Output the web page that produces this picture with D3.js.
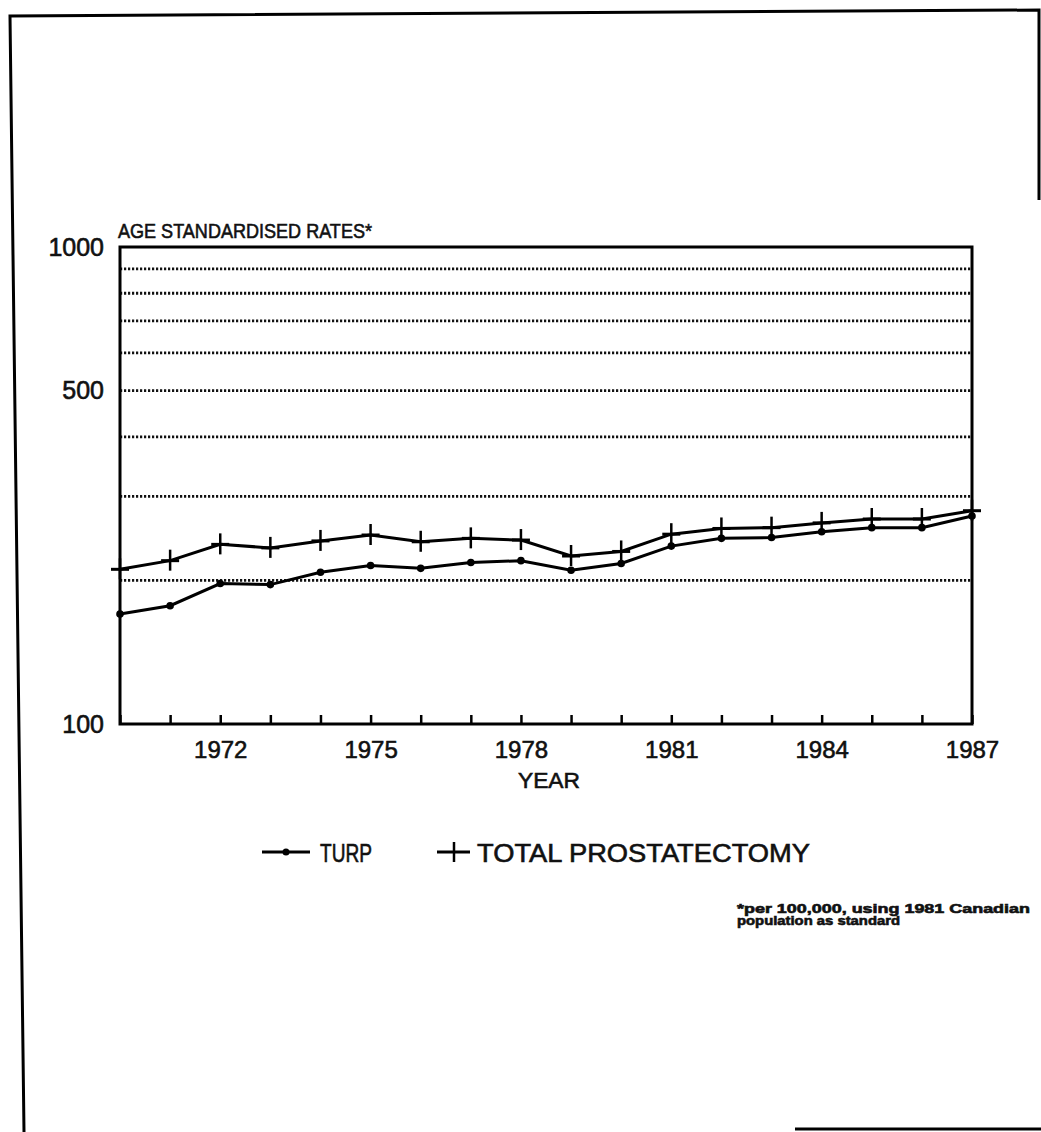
<!DOCTYPE html>
<html>
<head>
<meta charset="utf-8">
<script src="https://cdn.jsdelivr.net/npm/d3@7"></script>
<style>
  body { margin: 0; background: #fff; }
  text { font-family: "Liberation Sans", Arial, sans-serif; fill: #111; stroke: #111; stroke-width: 0.6; }
</style>
</head>
<body>
<div id="graph"></div>
<script>
// Data (rates per 100,000)
const years = [1970, 1971, 1972, 1973, 1974, 1975, 1976, 1977, 1978, 1979, 1980, 1981, 1982, 1983, 1984, 1985, 1986, 1987];
const turp = [170, 177, 197, 196, 208, 215, 212, 218, 220, 210, 217, 236, 245, 246, 253, 258, 258, 273];
const totalProstatectomy = [211, 220, 238, 234, 242, 249, 241, 245, 243, 225, 230, 250, 257, 258, 264, 269, 269, 280];
const yearLabels = [1972, 1975, 1978, 1981, 1984, 1987];
const rateLabels = [100, 500, 1000];
const gridRates = [200, 300, 400, 500, 600, 700, 800, 900];

// Page / plot constants
const w = 1041;
const h = 1132;
const pLeft = 120, pRight = 972, pTop = 247, pBottom = 724;

const svg = d3.select("#graph").append("svg")
  .attr("width", w)
  .attr("height", h);

// scanned page frame
svg.append("path")
  .attr("d", "M24,1132 L10,16 L1039,10 L1039,200")
  .attr("fill", "none")
  .attr("stroke", "#000")
  .attr("stroke-width", 3);
svg.append("line")
  .attr("x1", 795).attr("x2", 1041)
  .attr("y1", 1129).attr("y2", 1129)
  .attr("stroke", "#000")
  .attr("stroke-width", 3);

const x = d3.scaleLinear().domain([1970, 1987]).range([pLeft, pRight]);
const y = d3.scaleLog().domain([100, 1000]).range([pBottom, pTop]);

// dotted gridlines
svg.append("g")
  .selectAll("line")
  .data(gridRates)
  .join("line")
  .attr("x1", pLeft).attr("x2", pRight)
  .attr("y1", d => y(d)).attr("y2", d => y(d))
  .attr("stroke", "#111")
  .attr("stroke-width", 2.8)
  .attr("stroke-dasharray", "2.2,1.8");

// x axis with small inward ticks
const xAxis = svg.append("g")
  .attr("transform", `translate(0,${pBottom})`)
  .call(d3.axisBottom(x)
    .tickValues(years)
    .tickSize(-9)
    .tickPadding(17)
    .tickFormat(d => yearLabels.includes(d) ? d : ""));
xAxis.select(".domain").remove();
xAxis.selectAll(".tick line").attr("stroke", "#000").attr("stroke-width", 2.5);
xAxis.selectAll(".tick text")
  .attr("font-size", 24)
  .attr("font-family", "Liberation Sans, Arial, sans-serif")
  .attr("fill", "#111");

// y axis labels only
const yAxis = svg.append("g")
  .attr("transform", `translate(${pLeft},0)`)
  .call(d3.axisLeft(y)
    .tickValues(rateLabels)
    .tickSize(0)
    .tickPadding(16)
    .tickFormat(d3.format("d")));
yAxis.select(".domain").remove();
yAxis.selectAll(".tick text")
  .attr("font-size", 25)
  .attr("font-family", "Liberation Sans, Arial, sans-serif")
  .attr("fill", "#111");

// plot box
svg.append("rect")
  .attr("x", pLeft).attr("y", pTop)
  .attr("width", pRight - pLeft).attr("height", pBottom - pTop)
  .attr("fill", "none")
  .attr("stroke", "#000")
  .attr("stroke-width", 3);

const line = d3.line().x(d => x(d[0])).y(d => y(d[1]));

// Total prostatectomy
const tp = years.map((yr, i) => [yr, totalProstatectomy[i]]);
svg.append("path")
  .datum(tp)
  .attr("d", line)
  .attr("fill", "none")
  .attr("stroke", "#000")
  .attr("stroke-width", 3);
const plus = svg.append("g")
  .selectAll("g")
  .data(tp)
  .join("g")
  .attr("transform", d => `translate(${x(d[0])},${y(d[1])})`);
plus.append("line").attr("x1", 0).attr("x2", 0).attr("y1", -11).attr("y2", 10)
  .attr("stroke", "#000").attr("stroke-width", 2.5);
plus.append("line").attr("x1", -9).attr("x2", 9).attr("y1", 0).attr("y2", 0)
  .attr("stroke", "#000").attr("stroke-width", 3);

// TURP
const tu = years.map((yr, i) => [yr, turp[i]]);
svg.append("path")
  .datum(tu)
  .attr("d", line)
  .attr("fill", "none")
  .attr("stroke", "#000")
  .attr("stroke-width", 3);
svg.append("g")
  .selectAll("circle")
  .data(tu)
  .join("circle")
  .attr("cx", d => x(d[0]))
  .attr("cy", d => y(d[1]))
  .attr("r", 3.8)
  .attr("fill", "#000");

// titles
svg.append("text")
  .attr("x", 118).attr("y", 238)
  .attr("font-size", 21)
  .attr("textLength", 254)
  .attr("lengthAdjust", "spacingAndGlyphs")
  .text("AGE STANDARDISED RATES*");
svg.append("text")
  .attr("x", 518).attr("y", 788)
  .attr("font-size", 22)
  .attr("textLength", 62)
  .attr("lengthAdjust", "spacingAndGlyphs")
  .text("YEAR");

// legend
const lg = svg.append("g");
lg.append("line").attr("x1", 262).attr("x2", 310).attr("y1", 852).attr("y2", 852)
  .attr("stroke", "#000").attr("stroke-width", 3);
lg.append("circle").attr("cx", 286).attr("cy", 852).attr("r", 3.5).attr("fill", "#000");
lg.append("text").attr("x", 320).attr("y", 862).attr("font-size", 25)
  .attr("textLength", 52).attr("lengthAdjust", "spacingAndGlyphs").text("TURP");
lg.append("line").attr("x1", 437).attr("x2", 470).attr("y1", 852).attr("y2", 852)
  .attr("stroke", "#000").attr("stroke-width", 3);
lg.append("line").attr("x1", 454).attr("x2", 454).attr("y1", 842).attr("y2", 862)
  .attr("stroke", "#000").attr("stroke-width", 2.5);
lg.append("text").attr("x", 477).attr("y", 862).attr("font-size", 25)
  .attr("textLength", 333).attr("lengthAdjust", "spacingAndGlyphs").text("TOTAL PROSTATECTOMY");

// footnote
svg.append("text")
  .attr("x", 737).attr("y", 913)
  .attr("font-size", 12.5).attr("font-weight", "bold")
  .attr("textLength", 293).attr("lengthAdjust", "spacingAndGlyphs")
  .text("*per 100,000, using 1981 Canadian");
svg.append("text")
  .attr("x", 737).attr("y", 925)
  .attr("font-size", 12.5).attr("font-weight", "bold")
  .attr("textLength", 163).attr("lengthAdjust", "spacingAndGlyphs")
  .text("population as standard");
</script>
</body>
</html>
